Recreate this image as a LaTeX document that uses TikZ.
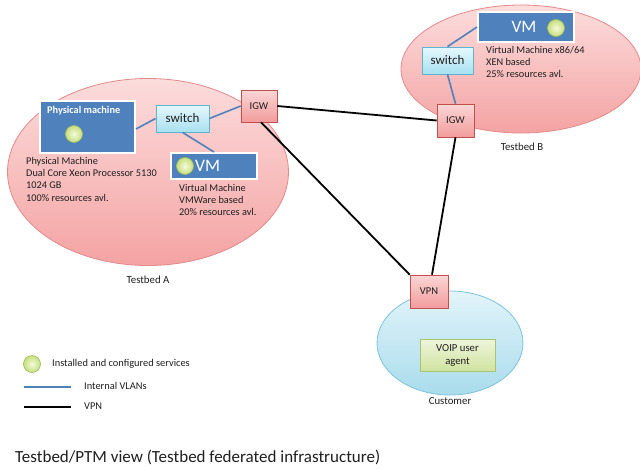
\documentclass[tikz,border=0pt]{standalone}
\usepackage{fontspec}
\setmainfont{Carlito}
\usetikzlibrary{shapes.geometric,shadows}

\definecolor{pinkTop}{HTML}{FCDCDC}
\definecolor{pinkBot}{HTML}{F4A3A3}
\definecolor{pinkLine}{HTML}{E38A8A}
\definecolor{cyanTop}{HTML}{E2F4FA}
\definecolor{cyanBot}{HTML}{A9DCEC}
\definecolor{cyanLine}{HTML}{7CC3D9}
\definecolor{machBlue}{HTML}{4F81BD}
\definecolor{swTop}{HTML}{E6F7FC}
\definecolor{swBot}{HTML}{A8E0F0}
\definecolor{swLine}{HTML}{5DB5D0}
\definecolor{gwTop}{HTML}{FBD6D6}
\definecolor{gwBot}{HTML}{F29C9C}
\definecolor{gwLine}{HTML}{C0504D}
\definecolor{agTop}{HTML}{EEF5DC}
\definecolor{agBot}{HTML}{D0E3A0}
\definecolor{agLine}{HTML}{A9C46E}
\definecolor{svcIn}{HTML}{F4FADC}
\definecolor{svcOut}{HTML}{C6DE7E}
\definecolor{svcLine}{HTML}{9BBB59}
\definecolor{txt}{HTML}{1F1F1F}

\tikzset{
  smalltext/.style={font=\fontsize{10.3}{12.3}\selectfont},
  tbzone/.style={ellipse, draw=pinkLine, line width=0.8pt, top color=pinkTop, bottom color=pinkBot},
  custzone/.style={ellipse, draw=cyanLine, line width=0.8pt, top color=cyanTop, bottom color=cyanBot},
  machinebox/.style={rectangle, fill=machBlue, draw=white, line width=2pt,
    drop shadow={shadow xshift=1pt, shadow yshift=-1pt, opacity=0.35}},
  switchbox/.style={rectangle, draw=swLine, line width=0.8pt, top color=swTop, bottom color=swBot,
    font=\fontsize{13}{15}\selectfont, text=txt, inner sep=0pt},
  gwbox/.style={rectangle, draw=gwLine, line width=0.6pt, top color=gwTop, bottom color=gwBot,
    font=\fontsize{10.5}{12}\selectfont, text=txt, inner sep=0pt},
  agentbox/.style={rectangle, draw=agLine, line width=0.8pt, top color=agTop, bottom color=agBot,
    font=\fontsize{10.7}{13}\selectfont, text=txt, align=center, inner sep=0pt},
  svcdot/.style={circle, draw=svcLine, line width=0.6pt, inner color=svcIn, outer color=svcOut,
    minimum size=17pt, inner sep=0pt},
  infotext/.style={smalltext, text=txt, anchor=north west, align=left, inner sep=0pt},
  captext/.style={font=\fontsize{10.8}{12}\selectfont, text=txt, inner sep=0pt},
  legendtext/.style={font=\fontsize{10.4}{12}\selectfont, text=txt, inner sep=0pt, anchor=west},
  vmlabel/.style={font=\fontsize{17.5}{20}\selectfont, text=white, inner sep=0pt},
  vlanline/.style={draw=machBlue, line width=1.6pt},
  vpnline/.style={draw=black, line width=1.8pt},
}

\begin{document}
\begin{tikzpicture}[x=1pt, y=-1pt]
\useasboundingbox (0,0) rectangle (640,469);
\fill[white] (0,0) rectangle (640,469);

% zones
\node[tbzone, minimum width=281pt, minimum height=187pt] (tbA) at (148,172) {};
\node[tbzone, minimum width=240pt, minimum height=128pt] (tbB) at (521,69) {};
\node[custzone, minimum width=146pt, minimum height=104pt] (cust) at (450,343) {};

\node[captext] (capA) at (148,280) {Testbed A};
\node[captext] (capB) at (522,147) {Testbed B};
\node[captext] (capC) at (450,401) {Customer};

% testbed A
\node[machinebox, minimum width=95pt, minimum height=52pt] (pm) at (87.5,127) {};
\node[font=\fontsize{10.3}{12}\selectfont\bfseries, text=white, anchor=west, inner sep=0pt] (pmlabel) at (47,111) {Physical machine};
\node[svcdot] (pmsvc) at (74,134) {};
\node[switchbox, minimum width=53pt, minimum height=27pt] (swA) at (182.5,118.5) {switch};
\node[gwbox, minimum width=36pt, minimum height=32pt] (igwA) at (259,106) {IGW};
\node[machinebox, minimum width=86pt, minimum height=26pt] (vmA) at (214,166) {};
\node[svcdot] (vmAsvc) at (185,166) {};
\node[vmlabel, anchor=west] (vmAlabel) at (195,166) {VM};

\node[infotext] (pminfo) at (26,157) {Physical Machine\\Dual Core Xeon Processor 5130\\1024 GB\\100\% resources avl.};
\node[infotext] (vmAinfo) at (179,184) {Virtual Machine\\VMWare based\\20\% resources avl.};

% testbed B
\node[machinebox, minimum width=96pt, minimum height=30pt] (vmB) at (526,27) {};
\node[svcdot] (vmBsvc) at (556,28) {};
\node[vmlabel] (vmBlabel) at (524,27) {VM};
\node[switchbox, minimum width=51pt, minimum height=27pt] (swB) at (447.5,60.5) {switch};
\node[gwbox, minimum width=37pt, minimum height=33pt] (igwB) at (455.5,120.5) {IGW};
\node[infotext] (vmBinfo) at (486,46) {Virtual Machine x86/64\\XEN based\\25\% resources avl.};

% customer
\node[gwbox, minimum width=38pt, minimum height=33pt] (vpn) at (429,291.5) {VPN};
\node[agentbox, minimum width=75pt, minimum height=32pt] (agent) at (457.5,355) {VOIP user\\agent};

% internal VLANs
\draw[vlanline] (pm.east) ++(0,2) -- (swA.west);
\draw[vlanline] (swA.east) -- (igwA.west);
\draw[vlanline] (swA.south) -- (vmA.north);
\draw[vlanline] (vmB.west) -- (swB.north);
\draw[vlanline] (swB.south) -- (igwB.north);

% VPN links
\draw[vpnline] (igwA.east) -- (igwB.west);
\draw[vpnline] (igwA.south) ++(2,0) -- (vpn.north west);
\draw[vpnline] (igwB.south) -- ([xshift=3pt]vpn.north);

% legend
\node[svcdot] (legsvc) at (32,364) {};
\node[legendtext] (legsvctext) at (52,364) {Installed and configured services};
\coordinate (vl1) at (24,387);
\coordinate (vl2) at (71,387);
\draw[vlanline] (vl1) -- (vl2);
\node[legendtext] (legvlan) at (84,386) {Internal VLANs};
\coordinate (vp1) at (24,407);
\coordinate (vp2) at (71,407);
\draw[vpnline] (vp1) -- (vp2);
\node[legendtext] (legvpn) at (84,406) {VPN};

% title
\node[text=txt, anchor=west, inner sep=0pt, font=\fontsize{17}{20}\selectfont] (title) at (15,457) {Testbed/PTM view (Testbed federated infrastructure)};
\end{tikzpicture}
\end{document}
